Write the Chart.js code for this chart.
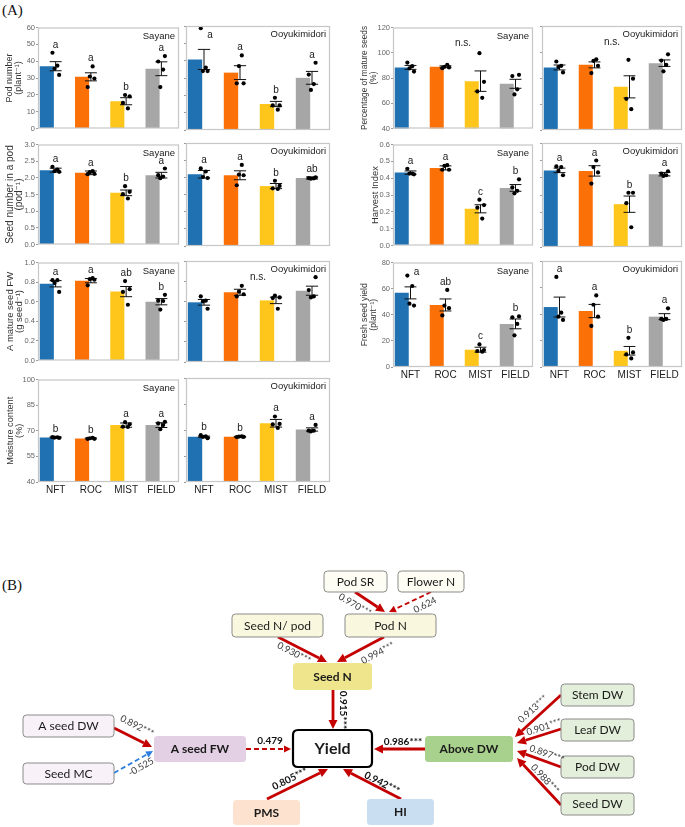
<!DOCTYPE html>
<html><head><meta charset="utf-8">
<script src="https://cdn.jsdelivr.net/npm/chart.js@4.4.1/dist/chart.umd.min.js"></script>
<style>
html,body{margin:0;padding:0;background:#fff;}
#root{position:relative;width:685px;height:827px;overflow:hidden;}
.cv{position:absolute;}
.lab{position:absolute;font-family:"Liberation Serif","Times New Roman",serif;font-size:15px;color:#111;line-height:16px;}
</style></head><body><div id="root">
<div class="lab" style="left:2px;top:2px">(A)</div>
<div class="lab" style="left:2px;top:577px">(B)</div>
</div>
<script>
// ---------------- DATA ----------------
const CATEGORIES = ['NFT', 'ROC', 'MIST', 'FIELD'];
const CULTIVARS = ['Sayane', 'Ooyukimidori'];

// Pod number (plant-1)
const podNumberSayaneMean = [37.0, 30.7, 16.2, 35.5];
const podNumberSayaneSE = [2.7, 2.4, 2.1, 4.1];
const podNumberSayanePts = [[45, 37.3, 35.6, 31.8], [36.9, 30.9, 29.7, 24.6], [19.9, 19.1, 15.2, 11.9], [43, 39.8, 35, 24.6]];
const podNumberSayaneLetters = ['a', 'a', 'b', 'a'];
const podNumberOoyuMean = [40.7, 33.1, 15.0, 30.1];
const podNumberOoyuSE = [5.8, 4.0, 1.5, 3.7];
const podNumberOoyuPts = [[58.7, 36, 34, 34], [43, 36.9, 26.9, 26.9], [18.6, 14.2, 14.2, 11.7], [38.8, 32, 26.5, 23.1]];
const podNumberOoyuLetters = ['a', 'a', 'b', 'a'];

// Seed number in a pod (pod-1)
const seedNumSayaneMean = [2.23, 2.15, 1.55, 2.08];
const seedNumSayaneSE = [0.06, 0.055, 0.085, 0.085];
const seedNumSayanePts = [[2.33, 2.25, 2.2, 2.18], [2.2, 2.17, 2.12, 2.11], [1.75, 1.58, 1.51, 1.38], [2.28, 2.08, 2.04, 1.99]];
const seedNumSayaneLetters = ['a', 'a', 'b', 'a'];
const seedNumOoyuMean = [2.09, 2.06, 1.745, 1.98];
const seedNumOoyuSE = [0.11, 0.13, 0.075, 0.03];
const seedNumOoyuPts = [[2.26, 2.17, 2.01, 1.98], [2.36, 2.08, 2.06, 1.77], [1.90, 1.75, 1.68, 1.66], [2.0, 1.98, 1.97, 1.96]];
const seedNumOoyuLetters = ['a', 'a', 'b', 'ab'];

// A mature seed FW (g seed-1)
const seedFWSayaneMean = [0.783, 0.815, 0.703, 0.60];
const seedFWSayaneSE = [0.032, 0.022, 0.052, 0.032];
const seedFWSayanePts = [[0.82, 0.82, 0.79, 0.70], [0.84, 0.83, 0.824, 0.767], [0.81, 0.728, 0.70, 0.569], [0.67, 0.61, 0.607, 0.52]];
const seedFWSayaneLetters = ['a', 'a', 'ab', 'b'];
const seedFWOoyuMean = [0.591, 0.69, 0.61, 0.706];
const seedFWOoyuSE = [0.028, 0.03, 0.032, 0.045];
const seedFWOoyuPts = [[0.649, 0.607, 0.60, 0.527], [0.754, 0.696, 0.671, 0.649], [0.658, 0.639, 0.633, 0.527], [0.84, 0.712, 0.649, 0.639]];
const seedFWOoyuLetters = null; // n.s.

// Moisture content (%)
const moistSayaneMean = [66.1, 65.5, 73.3, 73.3];
const moistSayaneSE = [0.3, 0.3, 1.25, 1.4];
const moistSayanePts = [[66.3, 66.2, 66.0, 65.8], [65.9, 65.6, 65.3, 65.2], [75.0, 73.8, 72.4, 72.2], [75.2, 74.3, 73.3, 70.9]];
const moistSayaneLetters = ['b', 'b', 'a', 'a'];
const moistOoyuMean = [66.1, 66.1, 73.9, 70.3];
const moistOoyuSE = [0.4, 0.2, 2.2, 0.95];
const moistOoyuPts = [[67.0, 66.3, 66.0, 65.3], [66.3, 66.2, 66.0, 65.9], [77.8, 73.5, 73.2, 71.2], [72.9, 69.6, 69.6, 69.2]];
const moistOoyuLetters = ['b', 'b', 'a', 'a'];

// Percentage of mature seeds (%)
const matureSayaneMean = [88.4, 88.9, 77.5, 75.4];
const matureSayaneSE = [1.55, 0.75, 8.1, 3.55];
const matureSayanePts = [[92.2, 89.4, 87.6, 85.1], [90.5, 88.9, 88.4, 87.8], [99.7, 77, 69.4, 64.3], [82.5, 81.5, 71, 67]];
const matureSayaneLetters = null; // n.s.
const matureOoyuMean = [88.1, 90.1, 73.2, 91.4];
const matureOoyuSE = [1.9, 2.3, 8.5, 2.5];
const matureOoyuPts = [[92.7, 89.4, 88.4, 84.3], [94.4, 93.2, 89.4, 83.8], [94, 79.5, 64, 56], [98.2, 93.4, 90.1, 85.1]];
const matureOoyuLetters = null; // n.s.

// Harvest Index
const hiSayaneMean = [0.433, 0.461, 0.218, 0.342];
const hiSayaneSE = [0.01, 0.012, 0.024, 0.02];
const hiSayanePts = [[0.456, 0.427, 0.427, 0.423], [0.477, 0.473, 0.45, 0.45], [0.272, 0.24, 0.225, 0.16], [0.393, 0.345, 0.325, 0.31]];
const hiSayaneLetters = ['a', 'a', 'c', 'b'];
const hiOoyuMean = [0.442, 0.439, 0.247, 0.42];
const hiOoyuSE = [0.013, 0.03, 0.047, 0.01];
const hiOoyuPts = [[0.465, 0.461, 0.439, 0.414], [0.499, 0.461, 0.43, 0.366], [0.313, 0.313, 0.253, 0.114], [0.437, 0.423, 0.414, 0.41]];
const hiOoyuLetters = ['a', 'a', 'b', 'a'];

// Fresh seed yield (plant-1)
const yieldSayaneMean = [56.75, 47.5, 13.25, 33.0];
const yieldSayaneSE = [4.6, 4.6, 1.9, 3.75];
const yieldSayanePts = [[70, 62, 48.5, 47], [59, 47, 45, 39.5], [17.25, 13, 12.25, 11.75], [38.75, 38, 33, 24.25]];
const yieldSayaneLetters = ['a', 'ab', 'c', 'b'];
const yieldOoyuMean = [45.25, 42.25, 12.25, 38.0];
const yieldOoyuSE = [7.5, 5.0, 3.25, 2.25];
const yieldOoyuPts = [[68, 41, 38, 35.5], [54, 47, 38, 31], [22, 11, 9.5, 6.5], [44.25, 36.25, 36.25, 35.5]];
const yieldOoyuLetters = ['a', 'a', 'b', 'a'];

// Path diagram (B)
const NODE_IDS = ['podSR', 'flowerN', 'podN', 'seedNpod', 'seedN', 'yield', 'aSeedFW', 'aSeedDW', 'seedMC', 'PMS', 'HI', 'aboveDW', 'stemDW', 'leafDW', 'podDW', 'seedDW'];
const NODE_LABELS = ['Pod SR', 'Flower N', 'Pod N', 'Seed N/ pod', 'Seed N', 'Yield', 'A seed FW', 'A seed DW', 'Seed MC', 'PMS', 'HI', 'Above DW', 'Stem DW', 'Leaf DW', 'Pod DW', 'Seed DW'];
const EDGE_FROM = ['podSR', 'flowerN', 'seedNpod', 'podN', 'seedN', 'aSeedDW', 'seedMC', 'aSeedFW', 'aboveDW', 'PMS', 'HI', 'stemDW', 'leafDW', 'podDW', 'seedDW'];
const EDGE_TO = ['podN', 'podN', 'seedN', 'seedN', 'yield', 'aSeedFW', 'aSeedFW', 'yield', 'yield', 'yield', 'yield', 'aboveDW', 'aboveDW', 'aboveDW', 'aboveDW'];
const EDGE_COEF = [0.970, 0.624, 0.930, 0.994, 0.915, 0.892, -0.525, 0.479, 0.986, 0.805, 0.942, 0.913, 0.901, 0.897, 0.988];
const EDGE_SIG = ['***', '', '***', '***', '***', '***', '', '', '***', '***', '***', '***', '***', '***', '***'];

// ---------------- LAYOUT / STYLE ----------------
const FONT = '"Liberation Sans", Arial, "DejaVu Sans", sans-serif';
const DFONT = 'Lato, "Noto Sans", "DejaVu Sans", sans-serif';
const BAR_COLORS = ['#1f71b1', '#fb7107', '#fec61a', '#a6a6a6'];
const JITTER = [-0.09, 0.05, -0.03, 0.1];
const root = document.getElementById('root');

function makePanel(p) {
  const padT = 3, padR = 3;
  const xH = p.xLabels ? 17 : 2;
  const left = p.plotL - p.axisW, top = p.plotT - padT;
  const w = p.axisW + (p.plotR - p.plotL) + padR;
  const h = padT + (p.plotB - p.plotT) + xH;
  const div = document.createElement('div');
  div.className = 'cv';
  Object.assign(div.style, {left: left + 'px', top: top + 'px', width: w + 'px', height: h + 'px'});
  const canvas = document.createElement('canvas');
  div.appendChild(canvas);
  root.appendChild(div);

  const points = [];
  p.pts.forEach((arr, i) => arr.forEach((v, j) => points.push({x: i + JITTER[(i + j) % 4], y: v})));
  const range = p.ymax - p.ymin;

  const plugin = {
    id: 'panelDeco',
    afterDatasetDraw(chart, args) {
      if (args.index !== 0) return;
      const ctx = chart.ctx, xs = chart.scales.x, ys = chart.scales.y;
      const band = xs.getPixelForValue(1) - xs.getPixelForValue(0);
      ctx.save();
      ctx.strokeStyle = '#111';
      ctx.lineWidth = 1;
      p.mean.forEach((m, i) => {
        const cx = xs.getPixelForValue(i);
        const yt = ys.getPixelForValue(m + p.se[i]), yb = ys.getPixelForValue(m - p.se[i]);
        const hw = band * 0.17;
        ctx.beginPath();
        ctx.moveTo(cx, yt); ctx.lineTo(cx, yb);
        ctx.moveTo(cx - hw, yt); ctx.lineTo(cx + hw, yt);
        ctx.moveTo(cx - hw, yb); ctx.lineTo(cx + hw, yb);
        ctx.stroke();
      });
      ctx.restore();
    },
    afterDraw(chart) {
      const ctx = chart.ctx, a = chart.chartArea, xs = chart.scales.x, ys = chart.scales.y;
      ctx.save();
      // frame
      ctx.strokeStyle = '#c6c6c6';
      ctx.lineWidth = 1.2;
      ctx.strokeRect(a.left + 0.5, a.top + 0.5, a.right - a.left - 1, a.bottom - a.top - 1);
      // cultivar
      ctx.fillStyle = '#1a1a1a';
      ctx.font = '9.5px ' + FONT;
      ctx.textAlign = 'right';
      ctx.textBaseline = 'middle';
      ctx.fillText(p.cultivar, a.right - 4, a.top + 8.5);
      // letters
      ctx.font = '10px ' + FONT;
      ctx.textAlign = 'center';
      if (p.letters) {
        ctx.textBaseline = 'alphabetic';
        p.letters.forEach((L, i) => {
          const hi = Math.max(p.mean[i] + p.se[i], Math.max(...p.pts[i]));
          let py = ys.getPixelForValue(hi) - 5;
          let px = xs.getPixelForValue(i);
          if (py - 10 < a.top) { py = a.top + 12; px += 6; }
          ctx.fillText(L, px, py);
        });
      } else {
        ctx.textBaseline = 'middle';
        const px = (xs.getPixelForValue(1) + xs.getPixelForValue(2)) / 2;
        ctx.fillText('n.s.', px, ys.getPixelForValue(p.ymin + 0.84 * range));
      }
      // y title
      if (p.title) {
        ctx.fillStyle = '#333';
        ctx.font = p.tsize + 'px ' + FONT;
        ctx.textAlign = 'center';
        ctx.textBaseline = 'middle';
        const cy = (a.top + a.bottom) / 2;
        const offs = p.title.length === 2 ? [-28, -19] : [-18];
        p.title.forEach((t, k) => {
          ctx.save();
          ctx.translate(a.left + offs[k], cy);
          ctx.rotate(-Math.PI / 2);
          ctx.fillText(t, 0, 0);
          ctx.restore();
        });
      }
      ctx.restore();
    }
  };

  new Chart(canvas, {
    data: {
      labels: CATEGORIES,
      datasets: [
        {type: 'bar', data: p.mean, backgroundColor: BAR_COLORS, borderWidth: 0, barPercentage: 0.8, categoryPercentage: 1.0, xAxisID: 'x', yAxisID: 'y', order: 2},
        {type: 'scatter', data: points, xAxisID: 'xp', yAxisID: 'y', pointRadius: 2.1, pointBackgroundColor: '#000', pointBorderWidth: 0, order: 1}
      ]
    },
    options: {
      responsive: true, maintainAspectRatio: false, animation: false, events: [],
      layout: {padding: {left: 0, top: padT, right: padR, bottom: p.xLabels ? 0 : xH}},
      plugins: {legend: {display: false}, tooltip: {enabled: false}},
      scales: {
        x: {type: 'category', offset: true, display: p.xLabels,
            grid: {display: false, drawTicks: false}, border: {display: false},
            ticks: {color: '#1a1a1a', font: {size: 10, family: FONT}, padding: 2, maxRotation: 0, autoSkip: false},
            afterFit(s) { s.height = xH; }},
        xp: {type: 'linear', min: -0.5, max: 3.5, display: false},
        y: {type: 'linear', min: p.ymin, max: p.ymax, display: true,
            grid: {display: true, drawOnChartArea: false, drawTicks: true, tickLength: 2, color: '#9a9a9a'},
            border: {display: false},
            ticks: {display: p.tickLabels, stepSize: p.step, color: '#666', font: {size: 7.5, family: FONT}, padding: 1,
                    callback: v => Number(v).toFixed(p.dec)},
            afterFit(s) { s.width = p.axisW; }}
      }
    },
    plugins: [plugin]
  });
}

const LEFT_X = [[38, 180], [185, 331]];
const RIGHT_X = [[393, 534], [541, 683]];
const LEFT_ROWS = [[25, 132], [142, 248], [260, 364], [377, 482]];
const RIGHT_ROWS = [[25, 132], [142, 249], [260, 367]];

const TRAITS = [
  {col: 'L', row: 0, title: ['Pod number', '(plant\u207B\u00B9)'], tsize: 9, ymin: 0, ymax: 60, step: 10, dec: 0,
   S: [podNumberSayaneMean, podNumberSayaneSE, podNumberSayanePts, podNumberSayaneLetters],
   O: [podNumberOoyuMean, podNumberOoyuSE, podNumberOoyuPts, podNumberOoyuLetters]},
  {col: 'L', row: 1, title: ['Seed number in a pod', '(pod\u207B\u00B9)'], tsize: 10, ymin: 0, ymax: 3, step: 0.5, dec: 1,
   S: [seedNumSayaneMean, seedNumSayaneSE, seedNumSayanePts, seedNumSayaneLetters],
   O: [seedNumOoyuMean, seedNumOoyuSE, seedNumOoyuPts, seedNumOoyuLetters]},
  {col: 'L', row: 2, title: ['A mature seed FW', '(g seed\u207B\u00B9)'], tsize: 9.5, ymin: 0, ymax: 1, step: 0.2, dec: 1,
   S: [seedFWSayaneMean, seedFWSayaneSE, seedFWSayanePts, seedFWSayaneLetters],
   O: [seedFWOoyuMean, seedFWOoyuSE, seedFWOoyuPts, seedFWOoyuLetters]},
  {col: 'L', row: 3, title: ['Moisture content', '(%)'], tsize: 9.2, ymin: 40, ymax: 100, step: 15, dec: 0,
   S: [moistSayaneMean, moistSayaneSE, moistSayanePts, moistSayaneLetters],
   O: [moistOoyuMean, moistOoyuSE, moistOoyuPts, moistOoyuLetters]},
  {col: 'R', row: 0, title: ['Percentage of mature seeds', '(%)'], tsize: 8.3, ymin: 40, ymax: 120, step: 20, dec: 0,
   S: [matureSayaneMean, matureSayaneSE, matureSayanePts, matureSayaneLetters],
   O: [matureOoyuMean, matureOoyuSE, matureOoyuPts, matureOoyuLetters]},
  {col: 'R', row: 1, title: ['Harvest Index'], tsize: 9.4, ymin: 0, ymax: 0.6, step: 0.1, dec: 1,
   S: [hiSayaneMean, hiSayaneSE, hiSayanePts, hiSayaneLetters],
   O: [hiOoyuMean, hiOoyuSE, hiOoyuPts, hiOoyuLetters]},
  {col: 'R', row: 2, title: ['Fresh seed yield', '(plant\u207B\u00B9)'], tsize: 8.6, ymin: 0, ymax: 80, step: 20, dec: 0,
   S: [yieldSayaneMean, yieldSayaneSE, yieldSayanePts, yieldSayaneLetters],
   O: [yieldOoyuMean, yieldOoyuSE, yieldOoyuPts, yieldOoyuLetters]}
];

TRAITS.forEach(t => {
  const xs = t.col === 'L' ? LEFT_X : RIGHT_X;
  const rows = t.col === 'L' ? LEFT_ROWS : RIGHT_ROWS;
  const [pt, pb] = rows[t.row];
  const bottom = t.row === rows.length - 1;
  ['S', 'O'].forEach((c, ci) => {
    const d = t[c];
    makePanel({
      plotL: xs[ci][0], plotR: xs[ci][1], plotT: pt, plotB: pb,
      axisW: ci === 0 ? (t.col === 'L' ? xs[ci][0] : xs[ci][0] - 340) : 3,
      xLabels: bottom, tickLabels: ci === 0,
      title: ci === 0 ? t.title : null, tsize: t.tsize,
      ymin: t.ymin, ymax: t.ymax, step: t.step, dec: t.dec,
      mean: d[0], se: d[1], pts: d[2], letters: d[3], cultivar: CULTIVARS[ci]
    });
  });
});

// ---------------- PATH DIAGRAM ----------------
const NODE_BOX = {
  podSR: [324, 11, 387, 32], flowerN: [398, 11, 464, 32], podN: [345, 54, 436, 77], seedNpod: [232, 54, 323, 77],
  seedN: [293, 103, 372, 130], yield: [293, 170, 372, 207], aSeedFW: [154, 176, 246, 202],
  aSeedDW: [23, 155, 114, 177], seedMC: [23, 203, 114, 224], PMS: [233, 240, 300, 265], HI: [367, 239, 434, 265],
  aboveDW: [425, 176, 513, 202], stemDW: [561, 124, 634, 146], leafDW: [561, 159, 634, 181],
  podDW: [561, 196, 634, 218], seedDW: [561, 233, 634, 255]
};
const NODE_STYLE = {
  podSR: ['#fdfdf3', '#8a8a8a', 0], flowerN: ['#fdfdf3', '#8a8a8a', 0],
  podN: ['#f9f8de', '#8a8a8a', 0], seedNpod: ['#f9f8de', '#8a8a8a', 0],
  seedN: ['#eee58c', null, 1], yield: ['#ffffff', '#000000', 2], aSeedFW: ['#e4d0e5', null, 1],
  aSeedDW: ['#f8f1f8', '#8a8a8a', 0], seedMC: ['#f8f1f8', '#8a8a8a', 0],
  PMS: ['#fde2cf', null, 1], HI: ['#c9def1', null, 1], aboveDW: ['#a9d18e', null, 1],
  stemDW: ['#e3efda', '#8a8a8a', 0], leafDW: ['#e3efda', '#8a8a8a', 0], podDW: ['#e3efda', '#8a8a8a', 0], seedDW: ['#e3efda', '#8a8a8a', 0]
};
// [x1, y1, x2, y2, labelX, labelY, labelAngleDeg]
const EDGE_GEOM = [
  [355, 32, 385, 52, 355, 45, 30], [431, 32, 389, 52, 425, 45, -27],
  [278, 77, 327, 102, 294, 93, 27], [384, 77, 337, 102, 378, 93, -28],
  [333, 130, 333, 169, 343, 150, 90],
  [114, 168, 152, 187, 137, 166, 27], [114, 213, 153, 191, 141, 207, -30],
  [246, 189, 291, 189, 270, 181, 0], [425, 189, 374, 189, 403, 182, 0],
  [267, 239, 328, 209, 290, 219, -26], [401, 239, 343, 209, 382, 223, 27],
  [561, 135, 515, 177, 533, 149, -42], [561, 169, 517, 183, 544, 167, -18],
  [561, 207, 517, 191, 547, 194, 20], [561, 245, 517, 198, 545, 219, 47]
];

function roundRect(ctx, x, y, w, h, r) {
  ctx.beginPath();
  ctx.moveTo(x + r, y); ctx.lineTo(x + w - r, y); ctx.quadraticCurveTo(x + w, y, x + w, y + r);
  ctx.lineTo(x + w, y + h - r); ctx.quadraticCurveTo(x + w, y + h, x + w - r, y + h);
  ctx.lineTo(x + r, y + h); ctx.quadraticCurveTo(x, y + h, x, y + h - r);
  ctx.lineTo(x, y + r); ctx.quadraticCurveTo(x, y, x + r, y); ctx.closePath();
}

const diagramPlugin = {
  id: 'pathDiagram',
  afterDraw(chart) {
    const ctx = chart.ctx;
    const X = v => chart.scales.x.getPixelForValue(v), Y = v => chart.scales.y.getPixelForValue(v);
    ctx.save();
    // edges
    EDGE_FROM.forEach((f, k) => {
      const g = EDGE_GEOM[k];
      const dashed = EDGE_SIG[k] === '';
      const color = EDGE_COEF[k] < 0 ? '#2b7de0' : '#c40000';
      const x1 = X(g[0]), y1 = Y(g[1]), x2 = X(g[2]), y2 = Y(g[3]);
      const ang = Math.atan2(y2 - y1, x2 - x1);
      const hl = dashed ? 7 : 9, hw = dashed ? 3.5 : 4.5;
      const bx = x2 - hl * Math.cos(ang), by = y2 - hl * Math.sin(ang);
      ctx.strokeStyle = color; ctx.fillStyle = color;
      ctx.lineWidth = dashed ? 1.8 : 2.8;
      ctx.setLineDash(dashed ? [5, 3] : []);
      ctx.beginPath(); ctx.moveTo(x1, y1); ctx.lineTo(bx, by); ctx.stroke();
      ctx.setLineDash([]);
      ctx.beginPath(); ctx.moveTo(x2, y2);
      ctx.lineTo(bx + hw * Math.sin(ang), by - hw * Math.cos(ang));
      ctx.lineTo(bx - hw * Math.sin(ang), by + hw * Math.cos(ang));
      ctx.closePath(); ctx.fill();
    });
    // nodes
    NODE_IDS.forEach((id, k) => {
      const b = NODE_BOX[id], st = NODE_STYLE[id];
      const x = X(b[0]), y = Y(b[1]), w = X(b[2]) - x, h = Y(b[3]) - y;
      roundRect(ctx, x, y, w, h, id === 'yield' ? 5 : 3.5);
      ctx.fillStyle = st[0]; ctx.fill();
      if (st[1]) { ctx.strokeStyle = st[1]; ctx.lineWidth = id === 'yield' ? 2.2 : 1; ctx.stroke(); }
      ctx.fillStyle = '#1a1a1a';
      ctx.font = (st[2] ? 'bold ' : '') + (id === 'yield' ? 16 : 12) + 'px ' + DFONT;
      ctx.textAlign = 'center'; ctx.textBaseline = 'middle';
      ctx.fillText(NODE_LABELS[k], x + w / 2, y + h / 2 + 0.5);
    });
    // coefficient labels
    EDGE_FROM.forEach((f, k) => {
      const g = EDGE_GEOM[k];
      const bold = EDGE_TO[k] === 'yield';
      ctx.save();
      ctx.translate(X(g[4]), Y(g[5]));
      ctx.rotate(g[6] * Math.PI / 180);
      ctx.fillStyle = bold ? '#111' : '#3a3a3a';
      ctx.font = (bold ? 'bold 10px ' : '9.5px ') + DFONT;
      ctx.textAlign = 'center'; ctx.textBaseline = 'middle';
      ctx.fillText(EDGE_COEF[k].toFixed(3) + EDGE_SIG[k], 0, 0);
      ctx.restore();
    });
    ctx.restore();
  }
};

(function () {
  const div = document.createElement('div');
  div.className = 'cv';
  Object.assign(div.style, {left: '0px', top: '560px', width: '685px', height: '267px'});
  const canvas = document.createElement('canvas');
  div.appendChild(canvas);
  root.appendChild(div);
  new Chart(canvas, {
    type: 'scatter',
    data: {datasets: [{data: []}]},
    options: {
      responsive: true, maintainAspectRatio: false, animation: false, events: [],
      layout: {padding: 0},
      plugins: {legend: {display: false}, tooltip: {enabled: false}},
      scales: {x: {type: 'linear', min: 0, max: 685, display: false},
               y: {type: 'linear', min: 0, max: 267, reverse: true, display: false}}
    },
    plugins: [diagramPlugin]
  });
})();
</script>
</body></html>
